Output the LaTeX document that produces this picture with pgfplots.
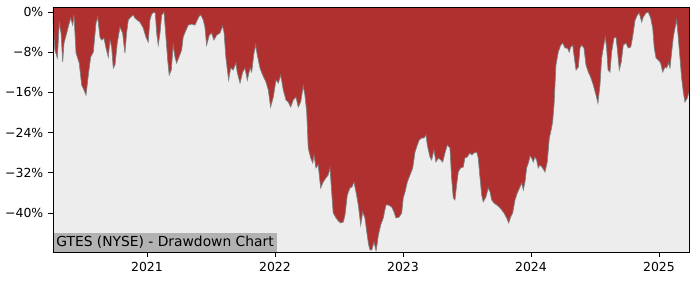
\documentclass[border=0pt]{standalone}
\usepackage{fontspec}
\setmainfont{DejaVu Sans}
\usepackage{pgfplots}
\usepackage{pgfplotstable}
\pgfplotsset{compat=1.18}
\usepgfplotslibrary{fillbetween}
\definecolor{ddred}{RGB}{176,48,48}
\definecolor{bgc}{RGB}{237,237,237}
\definecolor{boxc}{RGB}{178,178,178}
\definecolor{linec}{RGB}{128,128,128}

\pgfplotstableread{
x y
2020.266 -1.99
2020.281 -7.56
2020.300 -9.15
2020.315 -2.19
2020.329 -4.18
2020.342 -9.89
2020.352 -6.17
2020.373 -4.18
2020.393 -2.19
2020.404 -1.19
2020.420 -2.59
2020.430 -0.60
2020.446 -8.16
2020.471 -10.15
2020.490 -14.53
2020.508 -15.52
2020.524 -16.52
2020.542 -12.54
2020.560 -8.96
2020.581 -7.96
2020.602 -2.19
2020.615 -1.00
2020.633 -4.98
2020.646 -5.57
2020.664 -5.17
2020.680 -7.16
2020.698 -8.96
2020.711 -5.57
2020.724 -6.97
2020.737 -11.14
2020.750 -10.55
2020.768 -6.17
2020.789 -2.99
2020.810 -4.18
2020.828 -8.16
2020.841 -4.18
2020.854 -1.59
2020.873 -1.00
2020.893 -0.60
2020.906 -1.19
2020.924 -1.59
2020.945 -1.99
2020.971 -3.18
2020.992 -4.98
2021.010 -5.97
2021.023 -1.59
2021.037 -0.40
2021.055 0
2021.065 -0.20
2021.076 -4.18
2021.088 -6.57
2021.102 -4.18
2021.115 -0.60
2021.133 0
2021.146 -4.18
2021.162 -9.55
2021.174 -12.54
2021.190 -11.54
2021.205 -6.57
2021.219 -8.96
2021.232 -10.15
2021.250 -8.96
2021.271 -7.56
2021.283 -4.98
2021.305 -3.58
2021.323 -2.59
2021.349 -2.39
2021.375 -2.59
2021.393 -1.59
2021.409 -0.80
2021.422 -0.60
2021.440 -1.59
2021.453 -2.99
2021.466 -6.57
2021.487 -4.58
2021.505 -4.18
2021.523 -5.57
2021.545 -4.58
2021.570 -4.18
2021.591 -2.79
2021.602 -3.98
2021.617 -9.15
2021.638 -13.53
2021.654 -11.14
2021.674 -11.54
2021.695 -10.15
2021.705 -11.94
2021.727 -14.13
2021.748 -11.94
2021.766 -11.14
2021.784 -13.53
2021.805 -11.14
2021.818 -11.94
2021.836 -8.16
2021.849 -6.57
2021.862 -8.56
2021.883 -11.14
2021.904 -12.54
2021.930 -13.93
2021.948 -15.52
2021.966 -18.91
2021.987 -16.92
2022.008 -13.53
2022.026 -14.13
2022.045 -12.54
2022.065 -15.52
2022.086 -17.51
2022.104 -17.91
2022.123 -18.91
2022.143 -17.51
2022.164 -16.92
2022.182 -18.91
2022.201 -17.91
2022.221 -14.73
2022.234 -16.52
2022.248 -19.90
2022.260 -27.06
2022.279 -29.05
2022.295 -30.05
2022.305 -28.46
2022.320 -31.04
2022.338 -30.45
2022.357 -35.02
2022.377 -33.83
2022.398 -33.03
2022.416 -32.44
2022.430 -31.04
2022.443 -35.82
2022.455 -40.00
2022.477 -41.00
2022.495 -41.59
2022.513 -41.99
2022.534 -41.79
2022.547 -40.40
2022.565 -36.42
2022.586 -35.02
2022.602 -34.83
2022.617 -33.83
2022.633 -35.82
2022.651 -38.41
2022.670 -42.39
2022.685 -39.80
2022.703 -41.00
2022.717 -43.78
2022.732 -46.37
2022.743 -47.36
2022.756 -47.36
2022.774 -45.77
2022.790 -47.56
2022.808 -44.38
2022.826 -42.39
2022.846 -41.00
2022.867 -38.41
2022.885 -38.41
2022.912 -38.81
2022.930 -39.80
2022.945 -41.00
2022.971 -40.80
2022.990 -40.00
2023.002 -37.01
2023.016 -35.82
2023.034 -33.83
2023.055 -32.44
2023.076 -31.04
2023.094 -27.86
2023.112 -26.47
2023.127 -25.47
2023.146 -25.07
2023.164 -25.07
2023.180 -24.48
2023.190 -26.47
2023.211 -28.86
2023.224 -29.45
2023.242 -27.46
2023.258 -29.85
2023.276 -29.05
2023.295 -29.45
2023.310 -29.85
2023.328 -28.06
2023.346 -26.47
2023.367 -27.06
2023.380 -33.03
2023.393 -37.01
2023.406 -37.41
2023.419 -34.43
2023.432 -31.84
2023.450 -31.04
2023.471 -30.85
2023.484 -29.05
2023.502 -28.86
2023.523 -28.06
2023.539 -28.46
2023.555 -28.06
2023.576 -27.86
2023.588 -29.05
2023.602 -33.03
2023.615 -36.42
2023.627 -37.81
2023.648 -36.82
2023.666 -35.02
2023.680 -35.82
2023.693 -37.41
2023.711 -38.01
2023.732 -38.41
2023.752 -38.81
2023.771 -39.40
2023.789 -40.00
2023.810 -41.00
2023.826 -41.99
2023.841 -40.80
2023.857 -40.00
2023.875 -37.41
2023.893 -36.02
2023.914 -34.83
2023.927 -34.03
2023.940 -35.42
2023.953 -33.83
2023.966 -31.04
2023.982 -29.85
2023.992 -28.66
2024.005 -29.05
2024.018 -29.85
2024.031 -28.86
2024.044 -29.45
2024.057 -31.04
2024.070 -30.45
2024.091 -31.04
2024.109 -31.84
2024.127 -29.85
2024.143 -25.07
2024.154 -23.88
2024.169 -21.89
2024.180 -18.51
2024.195 -10.55
2024.213 -7.96
2024.232 -6.57
2024.248 -6.17
2024.266 -7.16
2024.284 -7.16
2024.299 -7.96
2024.310 -6.97
2024.326 -6.57
2024.336 -8.56
2024.352 -11.54
2024.370 -10.95
2024.383 -7.16
2024.396 -6.57
2024.414 -7.16
2024.430 -10.55
2024.448 -11.94
2024.466 -12.94
2024.487 -14.53
2024.508 -16.52
2024.523 -18.11
2024.539 -14.53
2024.552 -9.15
2024.565 -7.16
2024.580 -4.98
2024.591 -7.16
2024.602 -11.54
2024.617 -11.94
2024.630 -7.96
2024.648 -5.17
2024.664 -4.98
2024.674 -7.16
2024.690 -11.54
2024.705 -9.95
2024.721 -6.57
2024.742 -6.17
2024.760 -7.16
2024.779 -6.97
2024.794 -4.98
2024.813 -1.59
2024.831 -0.60
2024.846 -0.20
2024.865 -1.99
2024.877 -1.00
2024.898 -0.20
2024.916 0
2024.935 -1.19
2024.951 -3.18
2024.963 -7.16
2024.977 -9.15
2024.995 -9.55
2025.013 -10.15
2025.029 -11.94
2025.047 -10.95
2025.060 -11.14
2025.073 -10.15
2025.086 -11.14
2025.099 -7.96
2025.112 -4.98
2025.125 -3.18
2025.138 -1.59
2025.151 -5.17
2025.164 -9.15
2025.177 -13.13
2025.190 -15.92
2025.203 -17.91
2025.221 -17.11
2025.234 -15.92
}\ddtable

\begin{document}
\begin{tikzpicture}
\begin{axis}[
  scale only axis,
  width=459.6pt, height=177.1pt,
  xmin=2020.266, xmax=2025.234,
  ymin=-47.8, ymax=1.0,
  axis background/.style={fill=bgc},
  xtick={2021,2022,2023,2024,2025},
  xticklabels={2021,2022,2023,2024,2025},
  ytick={-40,-32,-24,-16,-8,0},
  yticklabels={−40\%,−32\%,−24\%,−16\%,−8\%,0\%},
  tick align=outside, tick pos=left,
  major tick length=3.5pt,
  tick style={black, line width=0.6pt},
  axis line style={line width=0.6pt},
  ticklabel style={font=\fontsize{9}{10}\selectfont, text=black},
  axis on top,
  clip=true,
]
\addplot[name path=dd, draw=none] table[x=x,y=y] {\ddtable};
\addplot[name path=top, draw=none] coordinates {(2020.2,3) (2025.3,3)};
\addplot[fill=ddred, draw=none] fill between[of=dd and top];
\addplot[color=linec, line width=0.5pt] table[x=x,y=y] {\ddtable};
\node[anchor=south west, fill=boxc, inner xsep=2.2pt, inner ysep=2.2pt, font=\fontsize{10}{11}\selectfont] at (rel axis cs:0,0) {GTES (NYSE) - Drawdown Chart};
\end{axis}
\pgfresetboundingbox
\path ([xshift=-38.3pt,yshift=-20.2pt]current axis.south west) rectangle ([xshift=8pt,yshift=5.1pt]current axis.north east);
\end{tikzpicture}
\end{document}
